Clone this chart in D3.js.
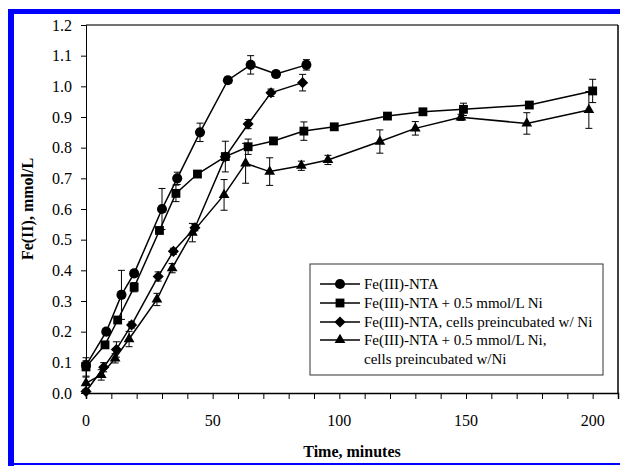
<!DOCTYPE html>
<html>
<head>
<meta charset="utf-8">
<script src="https://cdn.jsdelivr.net/npm/d3@7"></script>
<style>
  body { margin: 0; background: #fff; }
  svg { display: block; }
  text { font-family: "Liberation Serif", "Times New Roman", serif; fill: #000; }
</style>
</head>
<body>
<svg id="chart" width="620" height="466"></svg>
<script>
// Fe(III)-NTA
const circleTime = [0, 8, 14, 19, 30, 36, 45, 56, 65, 75, 87];
const circleFe = [0.09, 0.2, 0.32, 0.39, 0.6, 0.7, 0.85, 1.02, 1.07, 1.04, 1.07];
const circleErr = [0.015, 0.01, 0.08, 0.01, 0.067, 0.02, 0.03, 0.01, 0.03, 0.01, 0.017];

// Fe(III)-NTA + 0.5 mmol/L Ni
const squareTime = [0, 7.5, 12.5, 19, 29, 35.5, 44, 55, 64, 74, 86, 98, 119, 133, 149, 175, 200];
const squareFe = [0.085, 0.157, 0.238, 0.345, 0.53, 0.651, 0.714, 0.771, 0.803, 0.822, 0.854, 0.868, 0.903, 0.917, 0.925, 0.939, 0.985];
const squareErr = [0.03, 0.01, 0.01, 0.015, 0.01, 0.027, 0.01, 0.05, 0.025, 0.01, 0.03, 0.01, 0.01, 0.01, 0.02, 0.01, 0.038];

// Fe(III)-NTA, cells preincubated w/ Ni
const diamondTime = [0, 7, 12, 18, 28.5, 34.5, 43, 55, 64, 73, 85.5];
const diamondFe = [0.005, 0.084, 0.142, 0.222, 0.38, 0.462, 0.539, 0.77, 0.877, 0.979, 1.012];
const diamondErr = [0.005, 0.015, 0.025, 0.01, 0.015, 0.01, 0.01, 0.01, 0.015, 0.012, 0.027];

// Fe(III)-NTA + 0.5 mmol/L Ni, cells preincubated w/Ni
const triangleTime = [0, 6, 11.5, 17, 28, 34, 42, 54.5, 63, 72.5, 85, 95.5, 116, 130, 148, 174, 198.5];
const triangleFe = [0.032, 0.059, 0.113, 0.176, 0.305, 0.407, 0.523, 0.646, 0.749, 0.722, 0.741, 0.76, 0.82, 0.863, 0.899, 0.879, 0.923];
const triangleErr = [0.02, 0.017, 0.015, 0.025, 0.02, 0.015, 0.03, 0.05, 0.065, 0.045, 0.015, 0.015, 0.038, 0.022, 0.01, 0.035, 0.06];

const legendLabels = [
    ['Fe(III)-NTA'],
    ['Fe(III)-NTA + 0.5 mmol/L Ni'],
    ['Fe(III)-NTA, cells preincubated w/ Ni'],
    ['Fe(III)-NTA + 0.5 mmol/L Ni,', 'cells preincubated w/Ni']
];
const xMajorTicks = [0, 50, 100, 150, 200];
const yTicks = d3.range(0, 13).map(i => i / 10);

const diamondSymbol = {
    draw(ctx, size) {
        const r = Math.sqrt(size / 2);
        ctx.moveTo(0, -r);
        ctx.lineTo(r, 0);
        ctx.lineTo(0, r);
        ctx.lineTo(-r, 0);
        ctx.closePath();
    }
};

const series = [
    { t: circleTime, v: circleFe, e: circleErr, type: d3.symbolCircle, size: 80 },
    { t: squareTime, v: squareFe, e: squareErr, type: d3.symbolSquare, size: 78 },
    { t: diamondTime, v: diamondFe, e: diamondErr, type: diamondSymbol, size: 62 },
    { t: triangleTime, v: triangleFe, e: triangleErr, type: d3.symbolTriangle, size: 50 }
];

const svg = d3.select('#chart');

// blue page border
svg.append('rect').attr('x', 8).attr('y', 9).attr('width', 6).attr('height', 457).attr('fill', '#0000ff');
svg.append('rect').attr('x', 8).attr('y', 9).attr('width', 612).attr('height', 5).attr('fill', '#0000ff');
svg.append('rect').attr('x', 8).attr('y', 463).attr('width', 612).attr('height', 2).attr('fill', '#0000ff');

const x = d3.scaleLinear().domain([0, 210]).range([86, 618]);
const y = d3.scaleLinear().domain([0, 1.2]).range([393, 25]);

// frame
svg.append('line').attr('x1', 86).attr('x2', 618).attr('y1', 25).attr('y2', 25)
    .attr('stroke', '#444').attr('stroke-width', 1.5);
svg.append('line').attr('x1', 618).attr('x2', 618).attr('y1', 25).attr('y2', 393)
    .attr('stroke', '#000').attr('stroke-width', 1.5);

// x axis
const xAxis = svg.append('g').attr('transform', 'translate(0,393)');
xAxis.call(d3.axisBottom(x).tickValues(d3.range(0, 211, 10)).tickSize(6).tickFormat(''));
xAxis.select('.domain').attr('stroke-width', 1.5);
xAxis.selectAll('.tick line').attr('stroke-width', 1);
xAxis.selectAll('.major')
    .data(xMajorTicks)
    .enter()
    .append('text')
    .attr('x', d => x(d))
    .attr('y', 426)
    .attr('text-anchor', 'middle')
    .attr('font-size', 16)
    .text(d => d)
    .attr('transform', 'translate(0,-393)');

// y axis
const yAxis = svg.append('g').attr('transform', 'translate(86,0)');
yAxis.call(d3.axisLeft(y).tickValues(yTicks).tickSize(5).tickPadding(9).tickFormat(d3.format('.1f')));
yAxis.select('.domain').attr('stroke-width', 1);
yAxis.selectAll('.tick text')
    .attr('font-size', 16)
    .style('font-family', '"Liberation Serif", serif');

// axis titles
svg.append('text')
    .attr('x', 352).attr('y', 457)
    .attr('text-anchor', 'middle')
    .attr('font-size', 16).attr('font-weight', 'bold')
    .text('Time, minutes');
svg.append('text')
    .attr('transform', 'translate(33,209) rotate(-90)')
    .attr('text-anchor', 'middle')
    .attr('font-size', 16).attr('font-weight', 'bold')
    .text('Fe(II), mmol/L');

const line = d3.line().x(d => x(d[0])).y(d => y(d[1]));

series.forEach(s => {
    const pts = s.t.map((t, i) => [t, s.v[i], s.e[i]]);
    svg.append('path')
        .attr('d', line(pts))
        .attr('fill', 'none')
        .attr('stroke', '#000')
        .attr('stroke-width', 1.5);

    const bars = svg.append('g').attr('stroke', '#000').attr('stroke-width', 1);
    pts.forEach(p => {
        const top = y(p[1] + p[2]), bot = y(p[1] - p[2]), cx = x(p[0]);
        bars.append('line').attr('x1', cx).attr('x2', cx).attr('y1', top).attr('y2', bot);
        bars.append('line').attr('x1', cx - 3.5).attr('x2', cx + 3.5).attr('y1', top).attr('y2', top);
        bars.append('line').attr('x1', cx - 3.5).attr('x2', cx + 3.5).attr('y1', bot).attr('y2', bot);
    });

    svg.append('g').selectAll('path')
        .data(pts)
        .enter()
        .append('path')
        .attr('d', d3.symbol().type(s.type).size(s.size))
        .attr('transform', d => `translate(${x(d[0])},${y(d[1])})`)
        .attr('fill', '#000');
});

// legend
const legend = svg.append('g');
legend.append('rect')
    .attr('x', 310).attr('y', 264).attr('width', 293).attr('height', 111)
    .attr('fill', '#fff').attr('stroke', '#333').attr('stroke-width', 1);
const legendY = [284, 303, 322, 340];
series.forEach((s, i) => {
    const ly = legendY[i];
    legend.append('line').attr('x1', 320).attr('x2', 360).attr('y1', ly).attr('y2', ly)
        .attr('stroke', '#000').attr('stroke-width', 1.5);
    legend.append('path')
        .attr('d', d3.symbol().type(s.type).size(s.size))
        .attr('transform', `translate(340,${ly})`)
        .attr('fill', '#000');
    legendLabels[i].forEach((txt, j) => {
        legend.append('text')
            .attr('x', 364).attr('y', ly + j * 18.5)
            .attr('dy', '0.35em')
            .attr('font-size', 15)
            .text(txt);
    });
});
</script>
</body>
</html>
